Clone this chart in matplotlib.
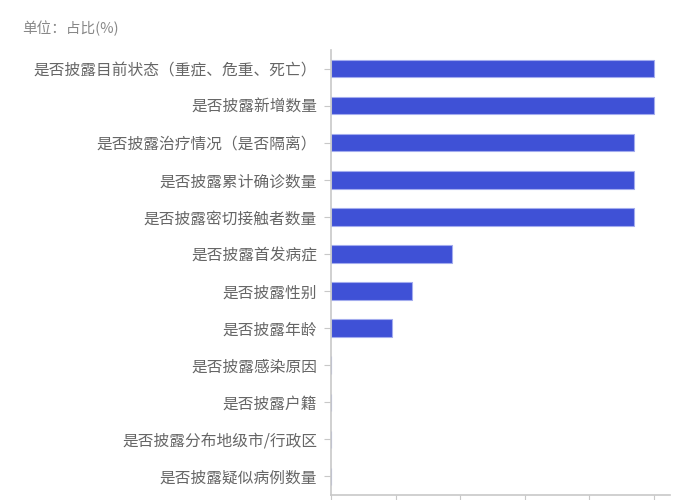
import matplotlib
matplotlib.use("Agg")
import matplotlib.pyplot as plt

plt.rcParams['font.family'] = ['Noto Sans CJK SC', 'DejaVu Sans']

categories = [
    "是否披露目前状态（重症、危重、死亡）",
    "是否披露新增数量",
    "是否披露治疗情况（是否隔离）",
    "是否披露累计确诊数量",
    "是否披露密切接触者数量",
    "是否披露首发病症",
    "是否披露性别",
    "是否披露年龄",
    "是否披露感染原因",
    "是否披露户籍",
    "是否披露分布地级市/行政区",
    "是否披露疑似病例数量",
]
values = [100, 100, 93.75, 93.75, 93.75, 37.5, 25, 18.75, 0, 0, 0, 0]
x_ticks = [0, 20, 40, 60, 80, 100]

BAR_COLOR = "#3F51D6"
EDGE_COLOR = "#A3ACEE"
AXIS_COLOR = "#C8C8C8"
TEXT_COLOR = "#666666"

fig = plt.figure(figsize=(7, 5), dpi=100)
ax = fig.add_axes([0.473, 0.01, 0.484, 0.89])

ypos = list(range(len(categories)))
ax.barh(ypos, values, height=0.47, color=BAR_COLOR,
        edgecolor=EDGE_COLOR, linewidth=0.8)

ax.set_ylim(len(categories) - 0.5, -0.5)
ax.set_xlim(0, 105)
ax.set_yticks(ypos)
ax.set_yticklabels(categories, fontsize=11.3, color=TEXT_COLOR)
# the x tick labels fall below the bottom edge of the picture, only marks show
ax.set_xticks(x_ticks)
ax.set_xticklabels([])

for side in ("top", "right"):
    ax.spines[side].set_visible(False)
for side in ("left", "bottom"):
    ax.spines[side].set_color(AXIS_COLOR)
    ax.spines[side].set_linewidth(1.2)
ax.tick_params(axis='y', length=5, color=AXIS_COLOR, pad=5)
ax.tick_params(axis='x', length=5, color=AXIS_COLOR)

fig.text(0.031, 0.943, "单位：占比(%)", fontsize=10.5, color="#888888",
         ha='left', va='center')

fig.savefig("out.png", dpi=100)
